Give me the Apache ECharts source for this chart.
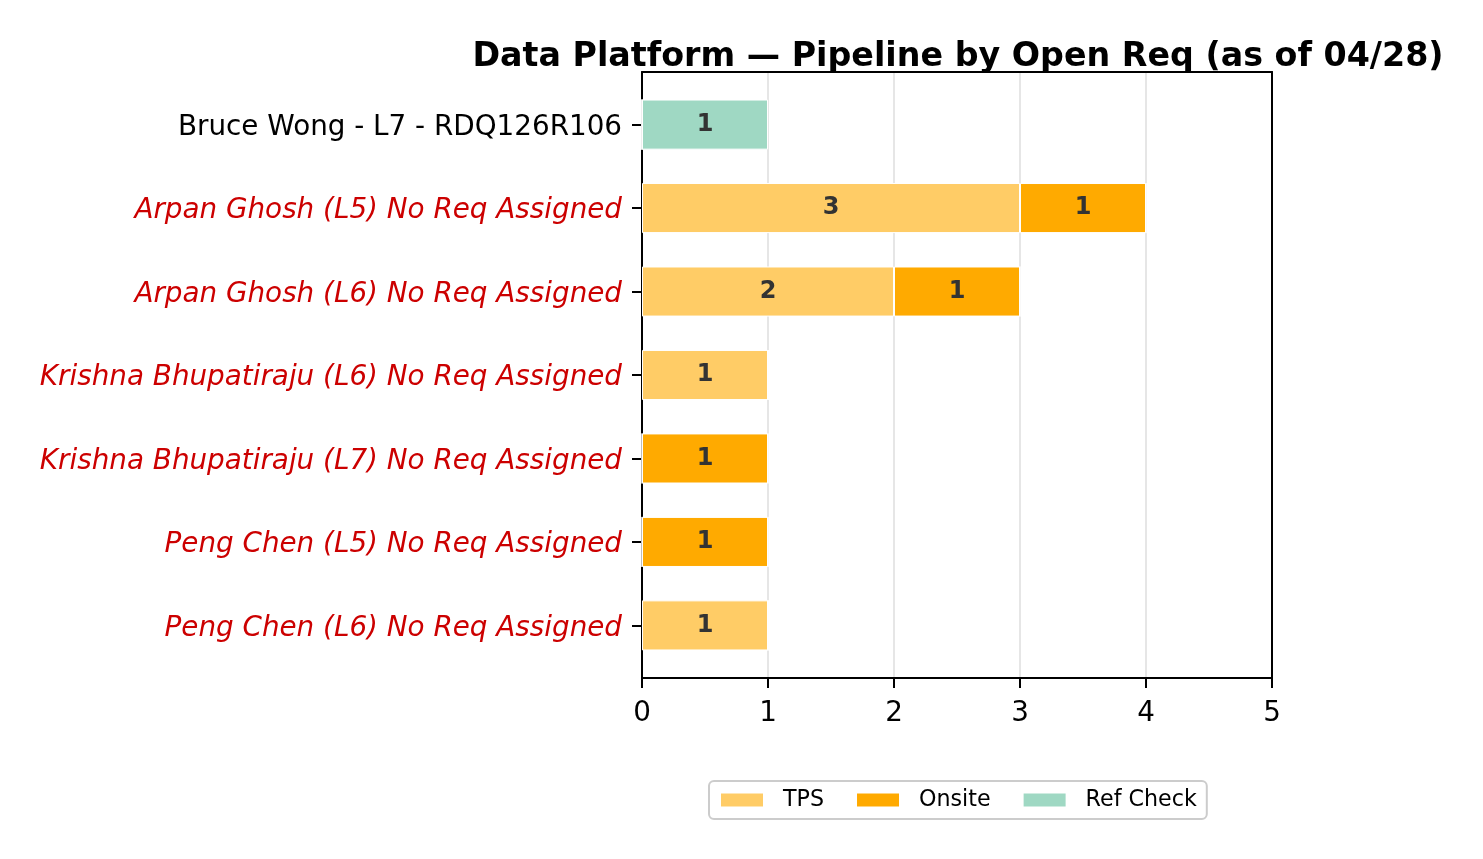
<!DOCTYPE html>
<html><head><meta charset="utf-8">
<script src="https://cdn.jsdelivr.net/npm/echarts@6/dist/echarts.min.js"></script>
<style>html,body{margin:0;padding:0;background:#fff}#c{width:1483px;height:859px}</style>
</head><body><div id="c"></div>
<script>
const categories = [
  "Bruce Wong - L7 - RDQ126R106",
  "Arpan Ghosh (L5) No Req Assigned",
  "Arpan Ghosh (L6) No Req Assigned",
  "Krishna Bhupatiraju (L6) No Req Assigned",
  "Krishna Bhupatiraju (L7) No Req Assigned",
  "Peng Chen (L5) No Req Assigned",
  "Peng Chen (L6) No Req Assigned"
];
const noReq = [false, true, true, true, true, true, true];
const tps = [0, 3, 2, 1, 0, 0, 1];
const onsite = [0, 1, 1, 0, 1, 1, 0];
const refCheck = [1, 0, 0, 0, 0, 0, 0];
const xTicks = [0, 1, 2, 3, 4, 5];

// layout (matplotlib-like: bar height 0.6, 5% axis margins)
const FONT = "DejaVu Sans";
const frameLeft = 642, frameTop = 72, frameW = 630, frameH = 606;
const barFrac = 0.6, marginFrac = 0.05;
const n = categories.length;
const spanUnits = (n - 1 + barFrac) * (1 + 2 * marginFrac);
const pxPerUnit = frameH / spanUnits;
const bandH = pxPerUnit * n;
const bandTop = frameTop + (frameH - bandH) / 2;

const labelCfg = {
  show: true, position: 'inside', color: '#333333', fontWeight: 'bold',
  fontSize: 24, fontFamily: FONT,
  formatter: p => (p.value ? String(p.value) : '')
};
function mk(name, data, color) {
  return {
    name, type: 'bar', stack: 'a', data, barWidth: pxPerUnit * barFrac,
    xAxisIndex: 0, yAxisIndex: 0,
    itemStyle: { color, borderColor: '#ffffff', borderWidth: 1 },
    label: labelCfg
  };
}
const frameLine = { show: true, onZero: false, lineStyle: { color: '#000', width: 2 } };
const chart = echarts.init(document.getElementById('c'));
chart.setOption({
  animation: false,
  backgroundColor: '#fff',
  title: {
    text: 'Data Platform \u2014 Pipeline by Open Req (as of 04/28)',
    left: frameLeft + frameW / 2 - 4, top: 36, textAlign: 'center',
    textStyle: { fontFamily: FONT, fontWeight: 'bold', fontSize: 33.3, color: '#000' }
  },
  legend: {
    left: 709, top: 781,
    itemWidth: 44, itemHeight: 15, itemGap: 31,
    padding: [8, 10, 8, 10],
    borderColor: '#cccccc', borderWidth: 2, borderRadius: 5,
    icon: 'rect',
    textStyle: { fontFamily: FONT, fontSize: 22.2, color: '#000', padding: [0, 0, 0, 14] },
    data: ['TPS', 'Onsite', 'Ref Check']
  },
  grid: [
    { left: frameLeft, top: bandTop, width: frameW, height: bandH, show: false },
    { left: frameLeft, top: frameTop, width: frameW, height: frameH, show: false }
  ],
  xAxis: [
    { gridIndex: 0, type: 'value', min: xTicks[0], max: xTicks[xTicks.length - 1], interval: 1, show: false },
    { gridIndex: 1, type: 'value', position: 'bottom', min: xTicks[0], max: xTicks[xTicks.length - 1], interval: 1,
      axisLine: frameLine,
      axisTick: { show: true, length: 10, lineStyle: { color: '#000', width: 2 } },
      axisLabel: { color: '#000', fontFamily: FONT, fontSize: 27.8, margin: 22 },
      splitLine: { show: true, showMinLine: false, showMaxLine: false, lineStyle: { color: '#e6e6e6', width: 2 } }
    },
    { gridIndex: 1, type: 'value', position: 'top', min: xTicks[0], max: xTicks[xTicks.length - 1], interval: 1,
      axisLine: frameLine, axisTick: { show: false }, axisLabel: { show: false }, splitLine: { show: false }
    }
  ],
  yAxis: [
    { gridIndex: 0, type: 'category', data: categories, inverse: true,
      axisLine: { show: false },
      axisTick: { show: true, length: 10, alignWithLabel: true, lineStyle: { color: '#000', width: 2 } },
      axisLabel: {
        margin: 20, fontFamily: FONT, fontSize: 27.8,
        formatter: (v, i) => noReq[i] ? '{r|' + v + '}' : '{n|' + v + '}',
        rich: {
          n: { color: '#000', fontFamily: FONT, fontSize: 27.8, padding: [6, 0, 0, 0] },
          r: { color: '#cc0000', fontFamily: FONT, fontSize: 27.8, fontStyle: 'italic', padding: [6, 0, 0, 0] }
        }
      }
    },
    { gridIndex: 1, type: 'value', min: 0, max: 1, position: 'left',
      axisLine: frameLine, axisTick: { show: false }, axisLabel: { show: false }, splitLine: { show: false } },
    { gridIndex: 1, type: 'value', min: 0, max: 1, position: 'right',
      axisLine: frameLine, axisTick: { show: false }, axisLabel: { show: false }, splitLine: { show: false } }
  ],
  series: [
    mk('TPS', tps, '#ffcc66'),
    mk('Onsite', onsite, '#ffaa00'),
    mk('Ref Check', refCheck, '#9fd8c3')
  ]
});
</script></body></html>
